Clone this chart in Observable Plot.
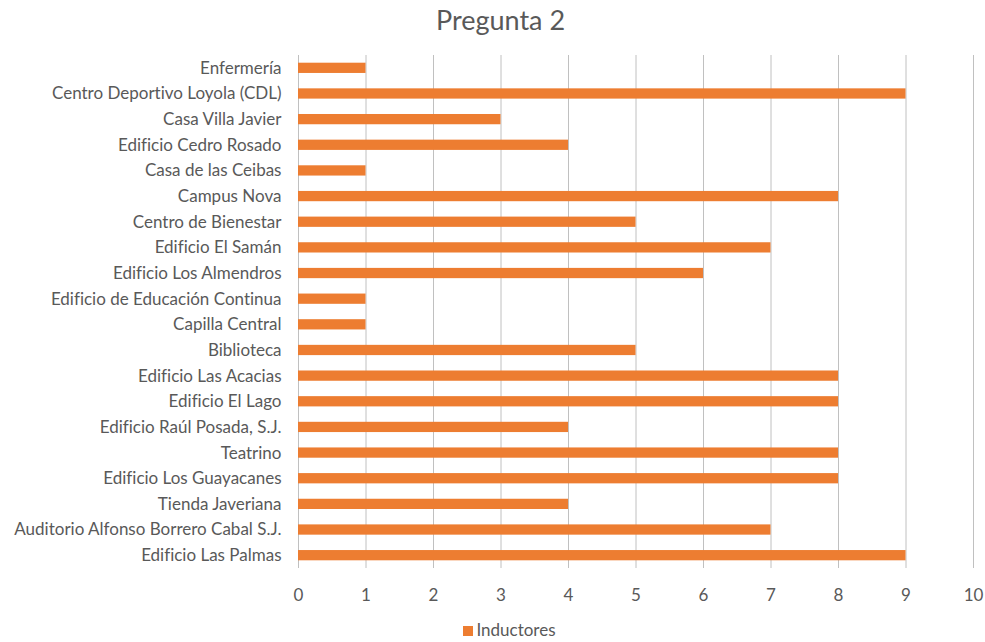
<!DOCTYPE html>
<html><head><meta charset="utf-8">
<script src="https://cdn.jsdelivr.net/npm/d3@7"></script>
<script src="https://cdn.jsdelivr.net/npm/@observablehq/plot@0.6"></script>
<style>
body{margin:0;background:#fff;font-family:Lato,"Open Sans",sans-serif;font-variant-ligatures:none;}
svg text{font-variant-ligatures:none;}
#title{height:40px;line-height:40px;text-align:center;font-size:27px;color:#595959;padding-left:16px;}
#legend{text-align:center;font-size:17px;color:#595959;margin-top:4px;padding-left:34px;}
#legend span.sw{display:inline-block;width:10px;height:10px;background:#ED7D31;margin-right:3px;}
</style></head>
<body>
<div id="title">Pregunta 2</div>
<div id="chart"></div>
<div id="legend"><span class="sw"></span>Inductores</div>
<script>
const categories = ["Enfermería","Centro Deportivo Loyola (CDL)","Casa Villa Javier","Edificio Cedro Rosado","Casa de las Ceibas","Campus Nova","Centro de Bienestar","Edificio El Samán","Edificio Los Almendros","Edificio de Educación Continua","Capilla Central","Biblioteca","Edificio Las Acacias","Edificio El Lago","Edificio Raúl Posada, S.J.","Teatrino","Edificio Los Guayacanes","Tienda Javeriana","Auditorio Alfonso Borrero Cabal S.J.","Edificio Las Palmas"];
const values = [1,9,3,4,1,8,5,7,6,1,1,5,8,8,4,8,8,4,7,9];
const xTicks = [0,1,2,3,4,5,6,7,8,9,10];
const seriesName = "Inductores";
const data = categories.map((c,i)=>({cat:c, v:values[i]}));
const chart = Plot.plot({
  width: 985, height: 575,
  marginTop: 15, marginBottom: 47, marginLeft: 298, marginRight: 12,
  style:{fontFamily:"Lato, 'Open Sans', sans-serif", fontSize:"17px", color:"#595959"},
  x:{domain:[0,10], ticks:xTicks, label:null},
  y:{domain:categories, paddingInner:0.6, paddingOuter:0.3, round:false, label:null},
  marks:[
    Plot.ruleX(xTicks, {stroke:"#c0c0c0", strokeWidth:1}),
    Plot.barX(data, {x:"v", y:"cat", fill:"#ED7D31"}),
    Plot.axisX({ticks:xTicks, tickSize:0, tickPadding:20, fontSize:17, label:null}),
    Plot.axisY({tickSize:0, tickPadding:17, fontSize:17, label:null})
  ]
});
document.getElementById("chart").appendChild(chart);
</script>
</body></html>
